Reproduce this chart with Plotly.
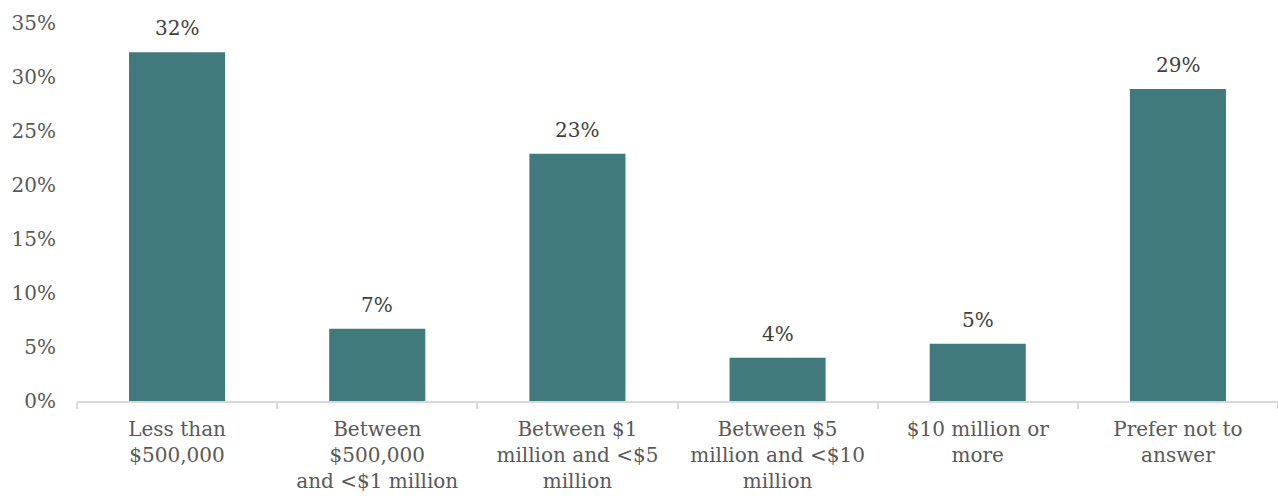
import plotly.graph_objects as go

# Share of respondents by asset bracket
categories = [
    "Less than<br>$500,000",
    "Between<br>$500,000<br>and <$1 million",
    "Between $1<br>million and <$5<br>million",
    "Between $5<br>million and <$10<br>million",
    "$10 million or<br>more",
    "Prefer not to<br>answer",
]
shares = [32.3, 6.7, 22.9, 4.0, 5.3, 28.9]
y_ticks = [0, 5, 10, 15, 20, 25, 30, 35]

FONT = "DejaVu Serif"
TEXT_GREY = "#595959"
BAR_TEAL = "#407A7C"

fig = go.Figure(
    go.Bar(
        x=categories,
        y=shares,
        marker=dict(color=BAR_TEAL, line=dict(width=0)),
        width=0.48,
        hoverinfo="x+y",
    )
)

# value labels above each bar
for cat, val in zip(categories, shares):
    fig.add_annotation(
        x=cat,
        y=val,
        text=f"{val:.0f}%",
        showarrow=False,
        yanchor="bottom",
        yshift=10,
        font=dict(family=FONT, size=20, color="#404040"),
    )

fig.update_layout(
    width=1278,
    height=496,
    margin=dict(l=77, r=0, t=23, b=95),
    paper_bgcolor="white",
    plot_bgcolor="white",
    showlegend=False,
    font=dict(family=FONT, size=20, color=TEXT_GREY),
)

fig.update_xaxes(
    showline=True,
    linecolor="#D9D9D9",
    linewidth=2,
    ticks="outside",
    tickson="boundaries",
    ticklen=6,
    tickcolor="#D9D9D9",
    tickwidth=2,
    showgrid=False,
    ticklabelstandoff=9,
    tickfont=dict(family=FONT, size=20, color=TEXT_GREY),
)

fig.update_yaxes(
    range=[0, 35],
    tickvals=y_ticks,
    ticktext=[f"{v}%" for v in y_ticks],
    showgrid=False,
    zeroline=False,
    showline=False,
    ticks="",
    ticklabelstandoff=20,
    tickfont=dict(family=FONT, size=20, color=TEXT_GREY),
)

fig.write_html("out.html")
